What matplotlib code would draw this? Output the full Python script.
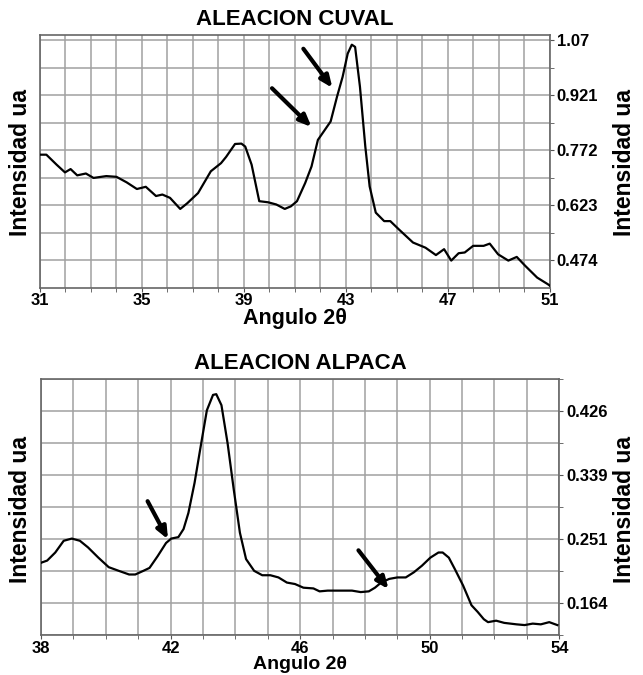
import numpy as np
import matplotlib.pyplot as plt
from matplotlib.ticker import MultipleLocator

plt.rcParams['font.family'] = ['Liberation Sans', 'DejaVu Sans']
plt.rcParams['font.weight'] = 'bold'

# ALEACION CUVAL
cuval_x = [31.0, 31.25, 31.65, 31.98, 32.2, 32.46, 32.8, 33.1, 33.6, 34.0, 34.4, 34.8,
           35.15, 35.55, 35.8, 36.1, 36.5, 36.77, 37.2, 37.7, 38.1, 38.3, 38.65, 38.9,
           39.05, 39.3, 39.6, 39.95, 40.27, 40.6, 40.84, 41.08, 41.4, 41.65, 41.9, 42.15,
           42.4, 42.65, 42.87, 43.07, 43.23, 43.36, 43.55, 43.76, 43.93, 44.17, 44.5,
           44.74, 45.07, 45.63, 46.12, 46.53, 46.85, 47.13, 47.42, 47.66, 47.99, 48.4,
           48.64, 48.97, 49.37, 49.7, 50.03, 50.5, 50.92, 51.0]
cuval_y = [0.760, 0.760, 0.733, 0.712, 0.721, 0.704, 0.709, 0.697, 0.702, 0.700, 0.685, 0.667,
           0.673, 0.648, 0.652, 0.643, 0.613, 0.628, 0.656, 0.715, 0.737, 0.754, 0.789, 0.790,
           0.782, 0.733, 0.634, 0.631, 0.625, 0.613, 0.620, 0.634, 0.683, 0.728, 0.800, 0.825,
           0.850, 0.917, 0.971, 1.034, 1.058, 1.052, 0.944, 0.782, 0.674, 0.603, 0.580,
           0.580, 0.558, 0.522, 0.508, 0.488, 0.504, 0.473, 0.493, 0.495, 0.513, 0.513,
           0.519, 0.490, 0.473, 0.483, 0.459, 0.427, 0.409, 0.405]
cuval_ticks = [0.474, 0.623, 0.772, 0.921, 1.07]
cuval_xticks = [31, 35, 39, 43, 47, 51]
cuval_arrows = [((41.33, 1.047), (42.47, 0.941)), ((40.1, 0.940), (41.65, 0.835))]

# ALEACION ALPACA
alpaca_x = [38.0, 38.19, 38.44, 38.7, 38.95, 39.2, 39.45, 39.77, 40.09, 40.4, 40.72, 40.91,
            41.16, 41.35, 41.6, 41.86, 42.02, 42.24, 42.4, 42.55, 42.74, 42.93, 43.12, 43.31,
            43.41, 43.57, 43.76, 43.95, 44.14, 44.33, 44.58, 44.83, 45.08, 45.33, 45.59,
            45.84, 46.1, 46.41, 46.6, 46.85, 47.23, 47.6, 47.87, 48.12, 48.31, 48.5, 48.75,
            49.0, 49.26, 49.51, 49.76, 50.02, 50.27, 50.4, 50.59, 50.78, 51.03, 51.29, 51.48,
            51.67, 51.8, 52.05, 52.3, 52.68, 52.93, 53.18, 53.43, 53.69, 53.94]
alpaca_y = [0.219, 0.222, 0.233, 0.249, 0.252, 0.249, 0.240, 0.226, 0.213, 0.208, 0.203, 0.203,
            0.208, 0.212, 0.228, 0.246, 0.252, 0.254, 0.265, 0.287, 0.328, 0.378, 0.427, 0.448,
            0.449, 0.434, 0.382, 0.319, 0.260, 0.224, 0.208, 0.202, 0.202, 0.199, 0.192,
            0.190, 0.185, 0.184, 0.180, 0.181, 0.181, 0.181, 0.179, 0.180, 0.185, 0.192, 0.197,
            0.199, 0.199, 0.206, 0.215, 0.226, 0.233, 0.233, 0.226, 0.210, 0.188, 0.161, 0.152,
            0.142, 0.138, 0.140, 0.137, 0.135, 0.134, 0.136, 0.135, 0.138, 0.134]
alpaca_ticks = [0.164, 0.251, 0.339, 0.426]
alpaca_xticks = [38, 42, 46, 50, 54]
alpaca_arrows = [((41.29, 0.303), (41.92, 0.251)), ((47.8, 0.236), (48.73, 0.183))]


def draw(ax, x, y, ticks, xticks, xlim, ylim, arrows, title, xlab_size):
    ax.plot(x, y, color='black', lw=1.6, zorder=3)
    ax.set_xticks(xticks)
    ax.xaxis.set_minor_locator(MultipleLocator(1))
    step = ticks[1] - ticks[0]
    ax.set_yticks(ticks)
    ax.set_yticklabels([f'{t:g}' for t in ticks])
    ax.set_yticks([t + step / 2 for t in [ticks[0] - step] + ticks], minor=True)
    # limits after the ticks, since set_yticks widens the view
    ax.set_xlim(xlim)
    ax.set_ylim(ylim)
    ax.yaxis.tick_right()
    ax.grid(True, which='both', color='#a0a0a0', lw=1.1)
    ax.tick_params(axis='both', which='both', length=3, color='#555555', pad=2)
    ax.tick_params(axis='x', pad=1)
    ax.tick_params(axis='both', labelsize=12)
    for s in ax.spines.values():
        s.set_color('#666666')
        s.set_linewidth(1.2)
    for start, end in arrows:
        ax.annotate('', xy=end, xytext=start,
                    arrowprops=dict(arrowstyle='-|>,head_length=0.7,head_width=0.3',
                                    color='black', lw=3, shrinkA=0, shrinkB=0), zorder=4)
    ax.set_title(title, fontsize=16, fontweight='bold', pad=7)
    ax.set_xlabel('Angulo 2θ', fontsize=xlab_size, fontweight='bold', labelpad=0)


fig = plt.figure(figsize=(6.43, 6.75), dpi=100)
ax1 = fig.add_axes([0.0622, 0.574, 0.793, 0.374])
ax2 = fig.add_axes([0.0638, 0.0593, 0.806, 0.379])

draw(ax1, cuval_x, cuval_y, cuval_ticks, cuval_xticks, (31, 51), (0.40, 1.084),
     cuval_arrows, 'ALEACION CUVAL', 15.5)
draw(ax2, alpaca_x, alpaca_y, alpaca_ticks, alpaca_xticks, (38, 54), (0.1205, 0.4695),
     alpaca_arrows, 'ALEACION ALPACA', 14)

for yc in [0.760, 0.245]:
    fig.text(0.032, yc, 'Intensidad ua', rotation=90, fontsize=16.5,
             fontweight='bold', ha='center', va='center')
    fig.text(0.972, yc, 'Intensidad ua', rotation=90, fontsize=16.5,
             fontweight='bold', ha='center', va='center')

fig.savefig('out.png', dpi=100)
